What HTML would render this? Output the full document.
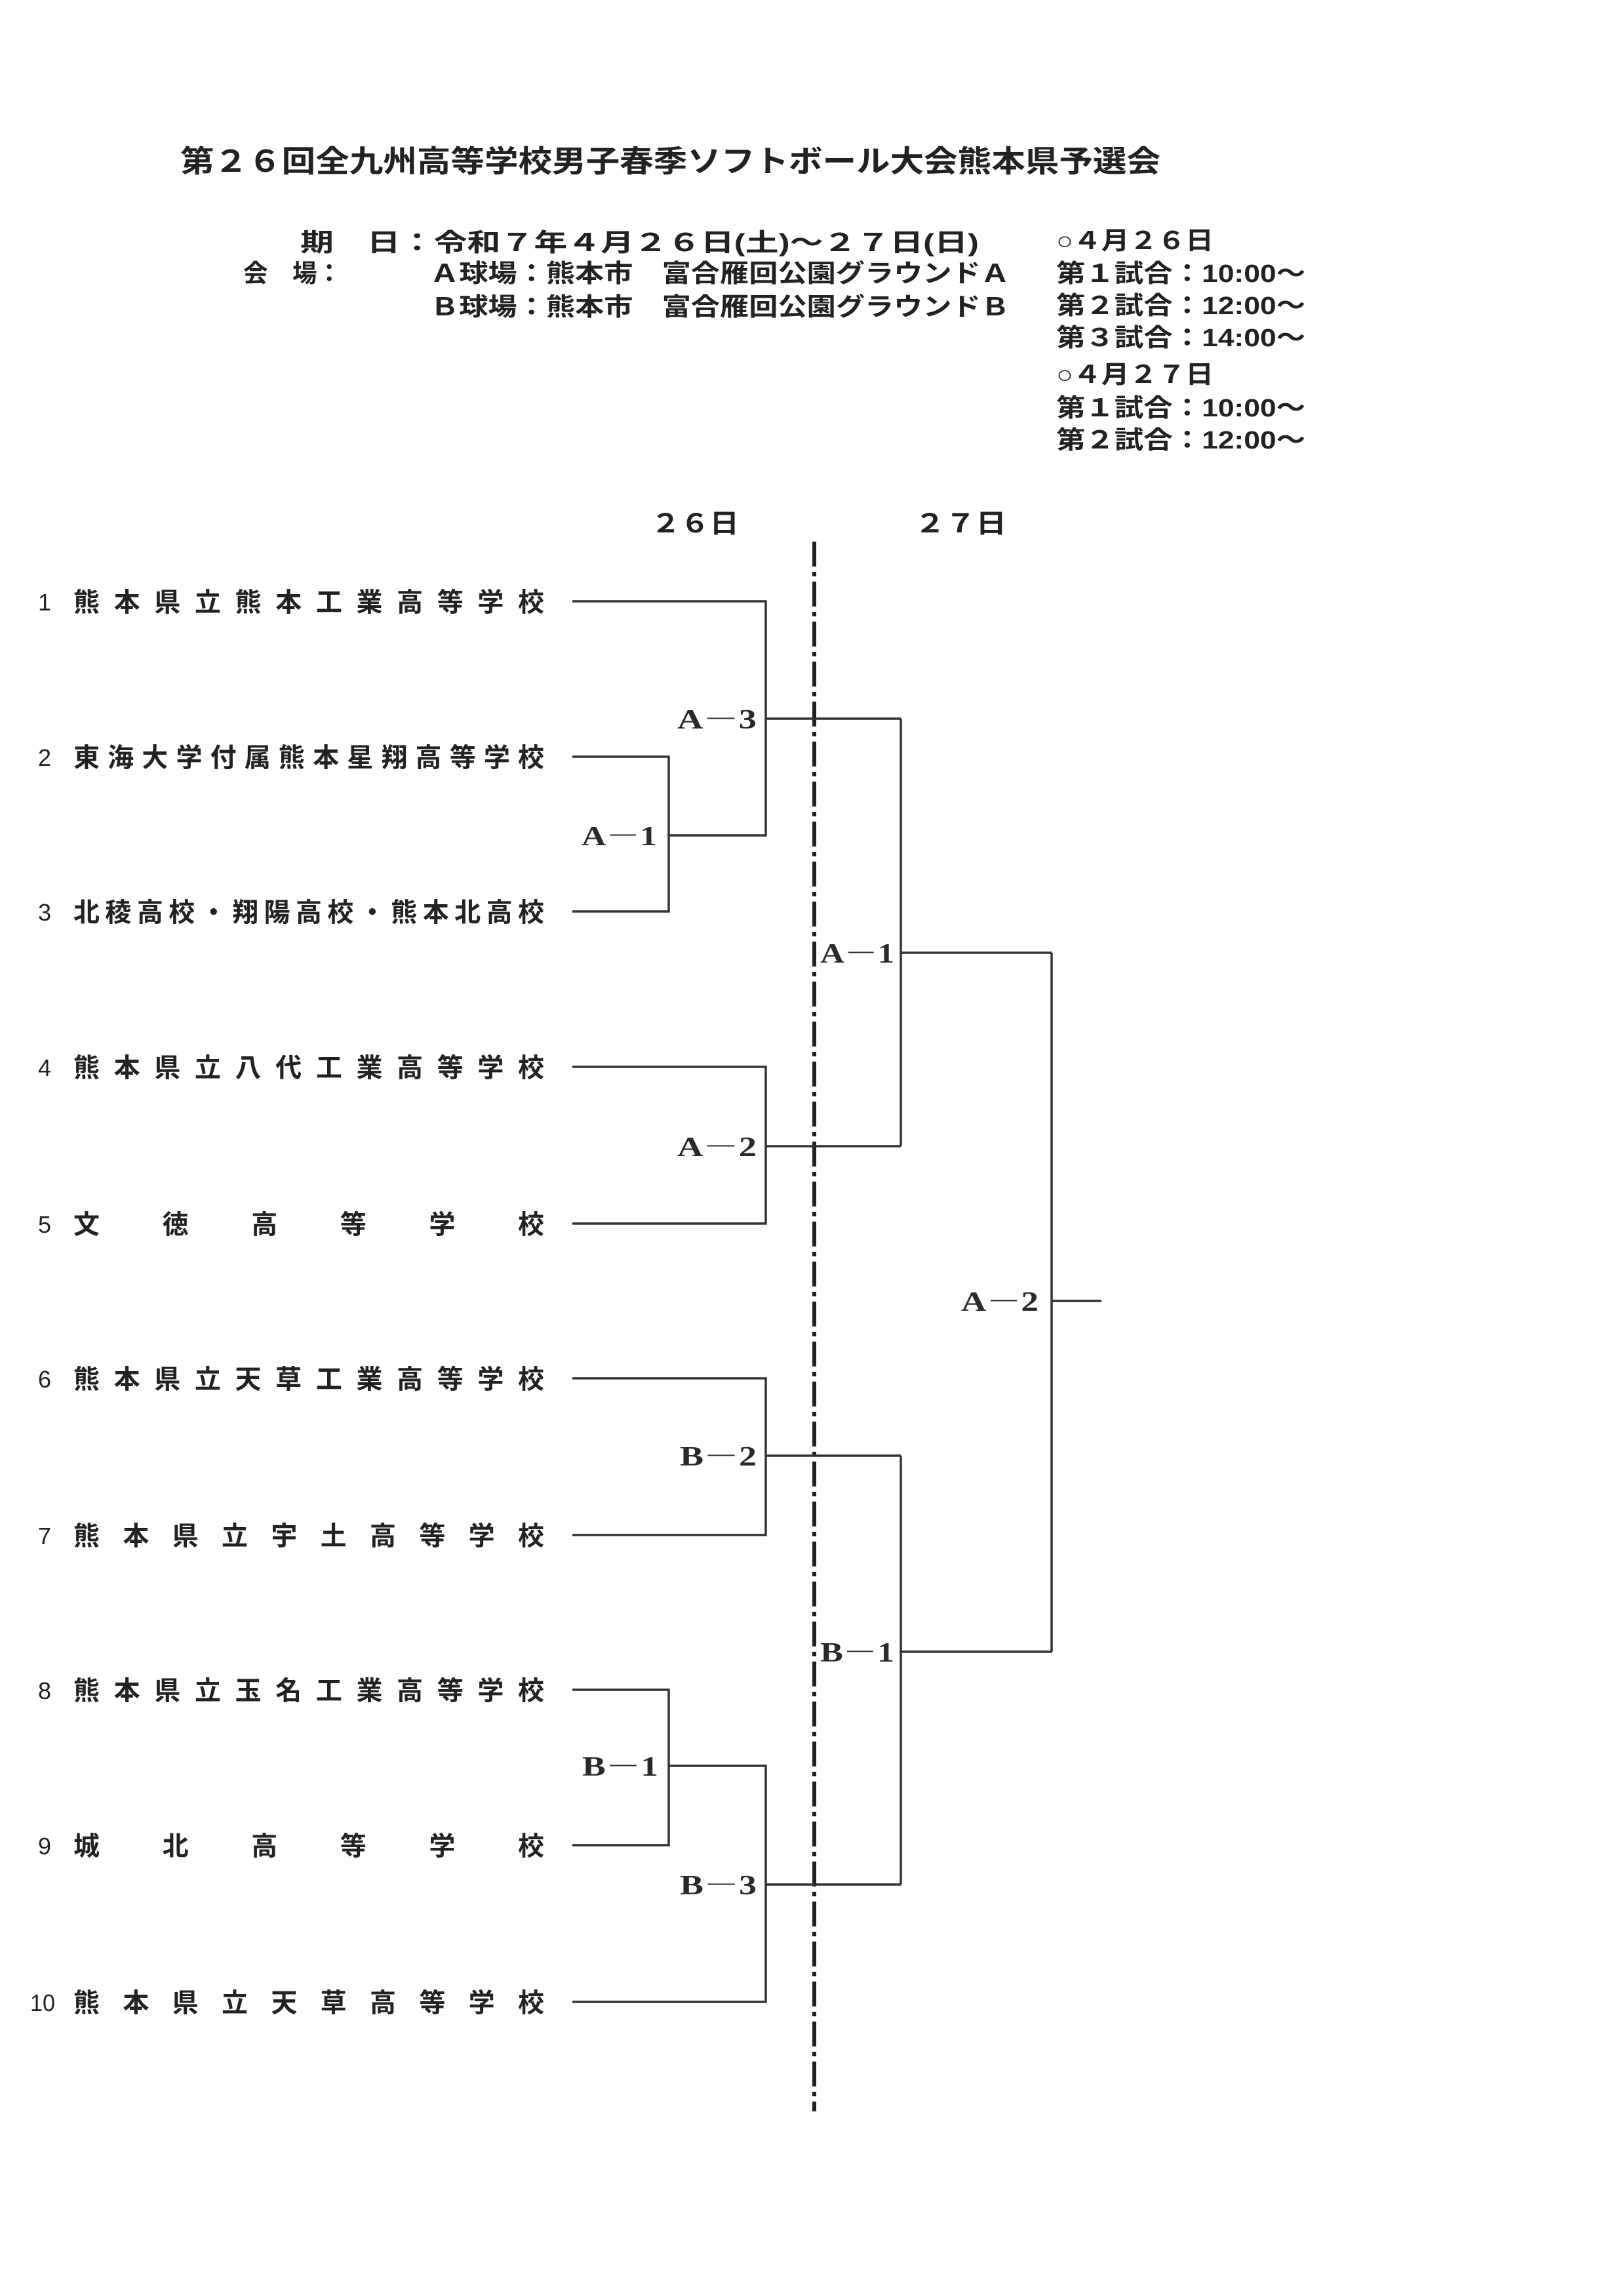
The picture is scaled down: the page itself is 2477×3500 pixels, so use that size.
<!DOCTYPE html>
<html><head><meta charset="utf-8"><style>
html,body{margin:0;padding:0;background:#fff;}
svg{display:block;}
.j{font-family:"Liberation Sans","Noto Sans CJK JP",sans-serif;font-weight:bold;fill:#222;}
.n{font-family:"Liberation Sans","Noto Sans CJK JP",sans-serif;fill:#222;}
.l{font-family:"Liberation Serif","Noto Serif CJK SC",serif;font-weight:bold;fill:#2a2a2a;}
</style></head><body>
<svg width="2477" height="3500" viewBox="0 0 2477 3500" xmlns="http://www.w3.org/2000/svg">
<rect width="2477" height="3500" fill="#fff"/>
<text class="j" x="275" y="262" font-size="46" textLength="1495" lengthAdjust="spacingAndGlyphs">第２６回全九州高等学校男子春季ソフトボール大会熊本県予選会</text>
<text class="j" x="458" y="383" font-size="38" textLength="1035" lengthAdjust="spacingAndGlyphs">期　日：令和７年４月２６日(土)～２７日(日)</text>
<text class="j" x="371" y="430" font-size="38" textLength="150" lengthAdjust="spacingAndGlyphs">会　場：</text>
<text class="j" x="656" y="430" font-size="38" textLength="884" lengthAdjust="spacingAndGlyphs">Ａ球場：熊本市　富合雁回公園グラウンドＡ</text>
<text class="j" x="656" y="481" font-size="38" textLength="884" lengthAdjust="spacingAndGlyphs">Ｂ球場：熊本市　富合雁回公園グラウンドＢ</text>
<text class="j" x="1611" y="380" font-size="38" textLength="240" lengthAdjust="spacingAndGlyphs">○４月２６日</text>
<text class="j" x="1611" y="430" font-size="38" textLength="380" lengthAdjust="spacingAndGlyphs">第１試合：10:00～</text>
<text class="j" x="1611" y="479" font-size="38" textLength="380" lengthAdjust="spacingAndGlyphs">第２試合：12:00～</text>
<text class="j" x="1611" y="528" font-size="38" textLength="380" lengthAdjust="spacingAndGlyphs">第３試合：14:00～</text>
<text class="j" x="1611" y="584" font-size="38" textLength="240" lengthAdjust="spacingAndGlyphs">○４月２７日</text>
<text class="j" x="1611" y="635" font-size="38" textLength="380" lengthAdjust="spacingAndGlyphs">第１試合：10:00～</text>
<text class="j" x="1611" y="684" font-size="38" textLength="380" lengthAdjust="spacingAndGlyphs">第２試合：12:00～</text>
<text class="j" x="993" y="812" font-size="40" textLength="134" lengthAdjust="spacingAndGlyphs">２６日</text>
<text class="j" x="1395" y="812" font-size="40" textLength="140" lengthAdjust="spacingAndGlyphs">２７日</text>
<line x1="1242" y1="826" x2="1242" y2="3220" stroke="#222" stroke-width="6" stroke-dasharray="38 8 7 8"/>
<g font-size="40">
<text class="n" x="58" y="931" font-size="36">1</text>
<text class="j" x="112" y="932" textLength="718" lengthAdjust="spacing">熊本県立熊本工業高等学校</text>
<text class="n" x="58" y="1168" font-size="36">2</text>
<text class="j" x="112" y="1169" textLength="718" lengthAdjust="spacing">東海大学付属熊本星翔高等学校</text>
<text class="n" x="58" y="1404" font-size="36">3</text>
<text class="j" x="112" y="1405" textLength="718" lengthAdjust="spacing">北稜高校・翔陽高校・熊本北高校</text>
<text class="n" x="58" y="1641" font-size="36">4</text>
<text class="j" x="112" y="1642" textLength="718" lengthAdjust="spacing">熊本県立八代工業高等学校</text>
<text class="n" x="58" y="1880" font-size="36">5</text>
<text class="j" x="112" y="1881" textLength="718" lengthAdjust="spacing">文　　徳　　高　　等　　学　　校</text>
<text class="n" x="58" y="2116" font-size="36">6</text>
<text class="j" x="112" y="2117" textLength="718" lengthAdjust="spacing">熊本県立天草工業高等学校</text>
<text class="n" x="58" y="2355" font-size="36">7</text>
<text class="j" x="112" y="2356" textLength="718" lengthAdjust="spacing">熊本県立宇土高等学校</text>
<text class="n" x="58" y="2591" font-size="36">8</text>
<text class="j" x="112" y="2592" textLength="718" lengthAdjust="spacing">熊本県立玉名工業高等学校</text>
<text class="n" x="58" y="2828" font-size="36">9</text>
<text class="j" x="112" y="2829" textLength="718" lengthAdjust="spacing">城　　北　　高　　等　　学　　校</text>
<text class="n" x="46" y="3067" font-size="36" textLength="38" lengthAdjust="spacingAndGlyphs">10</text>
<text class="j" x="112" y="3068" textLength="718" lengthAdjust="spacing">熊本県立天草高等学校</text>
</g>
<g stroke="#333" stroke-width="3.5" fill="none">
<polyline points="873,917 1168,917 1168,1274 1020,1274"/>
<polyline points="873,1154 1020,1154 1020,1390 873,1390"/>
<line x1="1168" y1="1096" x2="1374" y2="1096"/>
<polyline points="873,1627 1168,1627 1168,1866 873,1866"/>
<line x1="1168" y1="1748" x2="1374" y2="1748"/>
<polyline points="1374,1096 1374,1748"/>
<line x1="1374" y1="1453" x2="1604" y2="1453"/>
<polyline points="873,2102 1168,2102 1168,2341 873,2341"/>
<line x1="1168" y1="2220" x2="1374" y2="2220"/>
<polyline points="873,2577 1020,2577 1020,2814 873,2814"/>
<polyline points="1020,2693 1168,2693 1168,3053 873,3053"/>
<line x1="1168" y1="2874" x2="1374" y2="2874"/>
<polyline points="1374,2220 1374,2874"/>
<line x1="1374" y1="2519" x2="1604" y2="2519"/>
<polyline points="1604,1453 1604,2519"/>
<line x1="1604" y1="1984" x2="1680" y2="1984"/>
</g>
<g font-size="42">
<text class="l" x="1033" y="1111" textLength="121" lengthAdjust="spacingAndGlyphs">A－3</text>
<text class="l" x="887" y="1289" textLength="115" lengthAdjust="spacingAndGlyphs">A－1</text>
<text class="l" x="1033" y="1763" textLength="121" lengthAdjust="spacingAndGlyphs">A－2</text>
<text class="l" x="1251" y="1468" textLength="113" lengthAdjust="spacingAndGlyphs">A－1</text>
<text class="l" x="1466" y="1999" textLength="118" lengthAdjust="spacingAndGlyphs">A－2</text>
<text class="l" x="1037" y="2235" textLength="117" lengthAdjust="spacingAndGlyphs">B－2</text>
<text class="l" x="888" y="2708" textLength="116" lengthAdjust="spacingAndGlyphs">B－1</text>
<text class="l" x="1037" y="2889" textLength="117" lengthAdjust="spacingAndGlyphs">B－3</text>
<text class="l" x="1251" y="2534" textLength="113" lengthAdjust="spacingAndGlyphs">B－1</text>
</g>
</svg>
</body></html>
